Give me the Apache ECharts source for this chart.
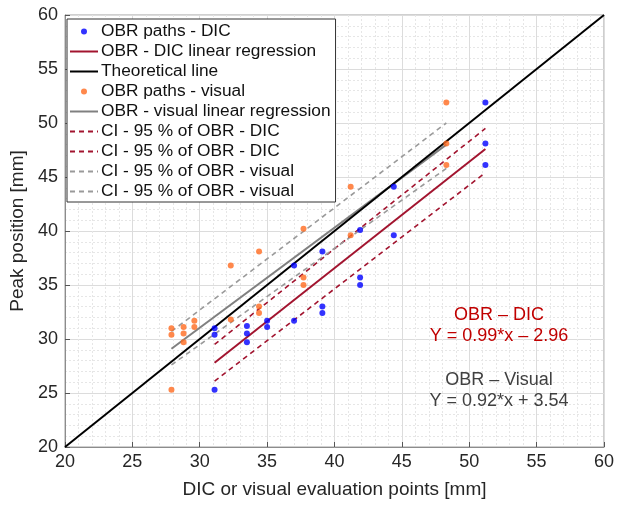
<!DOCTYPE html>
<html>
<head>
<meta charset="utf-8">
<script src="https://cdn.jsdelivr.net/npm/echarts@6/dist/echarts.min.js"></script>
<style>
html,body{margin:0;padding:0;background:#fff;}
#c{width:617px;height:505px;}
</style>
</head>
<body>
<div id="c"></div>
<script>
// ---- data ----
const dicX = [31.1,31.1,31.1, 33.5,33.5,33.5, 35.0,35.0, 37.0,37.0, 39.1,39.1,39.1, 41.9,41.9,41.9, 44.4,44.4, 51.2,51.2,51.2];
const dicY = [25.3,31.0,30.4, 31.2,30.5,29.7, 31.7,31.1, 31.7,36.8, 33.0,32.4,38.1, 40.1,35.7,35.0, 44.1,39.6, 51.9,48.1,46.1];
const visX = [27.9,27.9,27.9, 28.8,28.8,28.8, 29.6,29.6, 32.3,32.3, 34.4,34.4,34.4, 37.7,37.7,37.7, 41.2,41.2, 48.3,48.3,48.3];
const visY = [25.3,31.0,30.4, 31.1,30.5,29.7, 31.7,31.1, 31.8,36.8, 33.0,32.4,38.1, 40.2,35.7,35.0, 44.1,39.6, 51.9,48.1,46.1];

const dicRegX = [31.1, 51.2];   const dicRegY = [27.8, 47.6];
const visRegX = [27.9, 48.3];   const visRegY = [29.1, 48.0];
const theoX = [20, 60];          const theoY = [20, 60];
const dicUpX = [31.1, 51.2];    const dicUpY = [29.5, 49.5];
const dicLoX = [31.1, 51.2];    const dicLoY = [26.1, 45.4];
const visUpX = [27.9, 48.3];    const visUpY = [30.7, 50.0];
const visLoX = [27.9, 48.3];    const visLoY = [27.6, 45.8];

const legendNames = ['OBR paths - DIC','OBR - DIC linear regression','Theoretical line','OBR paths - visual','OBR - visual linear regression','CI - 95 % of OBR - DIC','CI - 95 % of OBR - DIC ','CI - 95 % of OBR - visual','CI - 95 % of OBR - visual '];
const eqDicTitle = 'OBR – DIC', eqDic = 'Y = 0.99*x – 2.96';
const eqVisTitle = 'OBR – Visual', eqVis = 'Y = 0.92*x + 3.54';
const xName = 'DIC or visual evaluation points [mm]';
const yName = 'Peak position [mm]';

const zip = (a,b) => a.map((v,i)=>[v,b[i]]);
const FONT = '"Liberation Sans", Arial, sans-serif';
const RED = '#a2142f', BLUE = '#0000ff', ORANGE = '#ff6a1f', GRAY = '#808080', DGRAY = '#9a9a9a';
const dotIcon = 'path://M0,0M28,14M11,7a3,3 0 1,0 6,0a3,3 0 1,0 -6,0z';

function lineS(name, x, y, color, width, dashed, z){
  return {name, type:'line', data: zip(x,y), symbol:'none', showSymbol:false, silent:true, z:z||2,
    lineStyle:{color, width, type: dashed ? [5,4] : 'solid'}, itemStyle:{color}};
}
const hideSym = {opacity:0, borderWidth:0};

const chart = echarts.init(document.getElementById('c'));
chart.setOption({
  animation:false,
  backgroundColor:'#fff',
  grid:{left:65, right:9, top:15, bottom:58, show:true, borderColor:'#a0a0a0', borderWidth:1, backgroundColor:'#fff'},
  xAxis:{type:'value', min:20, max:60, interval:5, name:xName, nameLocation:'middle', nameGap:33,
    nameTextStyle:{fontFamily:FONT, fontSize:19, color:'#262626'},
    axisLine:{show:true, lineStyle:{color:'#8c8c8c'}},
    axisTick:{show:true, inside:true, length:5, lineStyle:{color:'#555'}},
    axisLabel:{fontFamily:FONT, fontSize:18, color:'#262626', margin:6},
    splitLine:{show:true, lineStyle:{color:'#dcdcdc', width:1}},
    minorTick:{show:true, splitNumber:5, length:0},
    minorSplitLine:{show:true, lineStyle:{color:'#e6e6e6', type:[2,2]}}},
  yAxis:{type:'value', min:20, max:60, interval:5, name:yName, nameLocation:'middle', nameGap:30,
    nameTextStyle:{fontFamily:FONT, fontSize:19, color:'#262626'},
    axisLine:{show:true, lineStyle:{color:'#8c8c8c'}},
    axisTick:{show:true, inside:true, length:5, lineStyle:{color:'#555'}},
    axisLabel:{fontFamily:FONT, fontSize:18, color:'#262626', margin:7},
    splitLine:{show:true, lineStyle:{color:'#dcdcdc', width:1}},
    minorTick:{show:true, splitNumber:5, length:0},
    minorSplitLine:{show:true, lineStyle:{color:'#e6e6e6', type:[2,2]}}},
  legend:{orient:'vertical', left:67, top:19, itemWidth:28, itemHeight:14, itemGap:3,
    padding:[4,5,2,2], backgroundColor:'#fff', borderColor:'#333', borderWidth:1, borderRadius:0,
    selectedMode:false,
    textStyle:{fontFamily:FONT, fontSize:17.3, color:'#111', padding:[0,0,0,-2]},
    data:[
      {name:legendNames[0], icon:dotIcon, itemStyle:{color:BLUE}},
      {name:legendNames[1], itemStyle:hideSym},
      {name:legendNames[2], itemStyle:hideSym},
      {name:legendNames[3], icon:dotIcon, itemStyle:{color:ORANGE}},
      {name:legendNames[4], itemStyle:hideSym},
      {name:legendNames[5], itemStyle:hideSym},
      {name:legendNames[6], itemStyle:hideSym},
      {name:legendNames[7], itemStyle:hideSym},
      {name:legendNames[8], itemStyle:hideSym}
    ],
    formatter: n => n.trim()
  },
  graphic:[
    {type:'text', style:{text:eqDicTitle, x:499, y:315, align:'center', verticalAlign:'middle', font:'18px '+FONT, fill:'#c00000'}, z:50},
    {type:'text', style:{text:eqDic, x:499, y:336, align:'center', verticalAlign:'middle', font:'18px '+FONT, fill:'#c00000'}, z:50},
    {type:'text', style:{text:eqVisTitle, x:499, y:380, align:'center', verticalAlign:'middle', font:'18px '+FONT, fill:'#404040'}, z:50},
    {type:'text', style:{text:eqVis, x:499, y:401, align:'center', verticalAlign:'middle', font:'18px '+FONT, fill:'#404040'}, z:50}
  ],
  series:[
    {name:legendNames[0], type:'scatter', data:zip(dicX,dicY), symbol:'circle', symbolSize:6, itemStyle:{color:BLUE}, z:5, silent:true},
    lineS(legendNames[1], dicRegX, dicRegY, RED, 2, false, 3),
    lineS(legendNames[2], theoX, theoY, '#000', 2, false, 4),
    {name:legendNames[3], type:'scatter', data:zip(visX,visY), symbol:'circle', symbolSize:6, itemStyle:{color:ORANGE}, z:5, silent:true},
    lineS(legendNames[4], visRegX, visRegY, GRAY, 2, false, 3),
    lineS(legendNames[5], dicUpX, dicUpY, RED, 1.6, true, 2),
    lineS(legendNames[6], dicLoX, dicLoY, RED, 1.6, true, 2),
    lineS(legendNames[7], visUpX, visUpY, DGRAY, 1.6, true, 2),
    lineS(legendNames[8], visLoX, visLoY, DGRAY, 1.6, true, 2)
  ]
});
</script>
</body>
</html>
